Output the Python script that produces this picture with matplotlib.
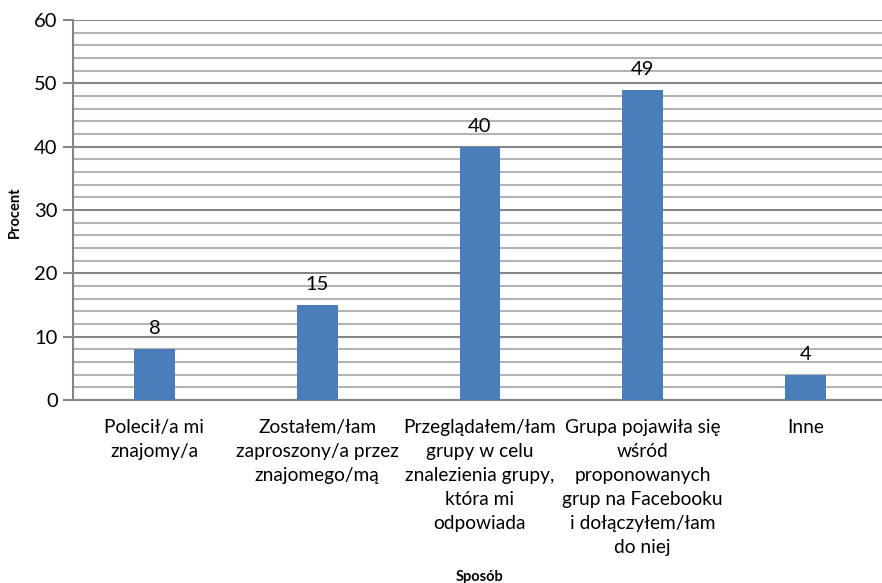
import matplotlib.pyplot as plt
import numpy as np
from matplotlib.ticker import MultipleLocator

plt.rcParams['font.family'] = ['Lato', 'DejaVu Sans']

categories = ["Polecił/a mi\nznajomy/a",
              "Zostałem/łam\nzaproszony/a przez\nznajomego/mą",
              "Przeglądałem/łam\ngrupy w celu\nznalezienia grupy,\nktóra mi\nodpowiada",
              "Grupa pojawiła się\nwśród\nproponowanych\ngrup na Facebooku\ni dołączyłem/łam\ndo niej",
              "Inne"]
values = [8, 15, 40, 49, 4]

fig = plt.figure(figsize=(8.82, 5.83), dpi=100)
ax = fig.add_axes([73/882, 183/583, 814/882, 380/583])

ind = np.arange(len(values))
ax.bar(ind, values, 0.25, color='#4a7ebb', zorder=3)

ax.set_xlim(-0.5, len(values) - 0.5)
ax.set_ylim(0, 60)
ax.yaxis.set_major_locator(MultipleLocator(10))
ax.yaxis.set_minor_locator(MultipleLocator(2))
ax.grid(True, which='major', axis='y', color='#868686', linewidth=1.5, zorder=1)
ax.grid(True, which='minor', axis='y', color='#b3b3b3', linewidth=1.5, zorder=1)

for s in ['top', 'right']:
    ax.spines[s].set_visible(False)
for s in ['left', 'bottom']:
    ax.spines[s].set_color('#868686')
    ax.spines[s].set_linewidth(1.5)

ax.tick_params(axis='y', which='major', length=7, width=1.5, color='#868686',
               labelsize=14.5, pad=4)
ax.tick_params(axis='y', which='minor', length=0)
ax.tick_params(axis='x', length=0, labelsize=13.8, pad=14)
ax.set_xticks(ind)
ax.set_xticklabels(categories, linespacing=1.5)

for i, v in enumerate(values):
    ax.text(i, v + 1.9, str(v), ha='center', va='bottom', fontsize=14.5)

fig.text(15/882, 1 - 212/583, "Procent", rotation=90, ha='center', va='center',
         fontsize=10.5, fontweight='bold')
fig.text(480/882, 1 - 577/583, "Sposób", ha='center', va='center',
         fontsize=10.5, fontweight='bold')

fig.savefig("out.png", dpi=100)
